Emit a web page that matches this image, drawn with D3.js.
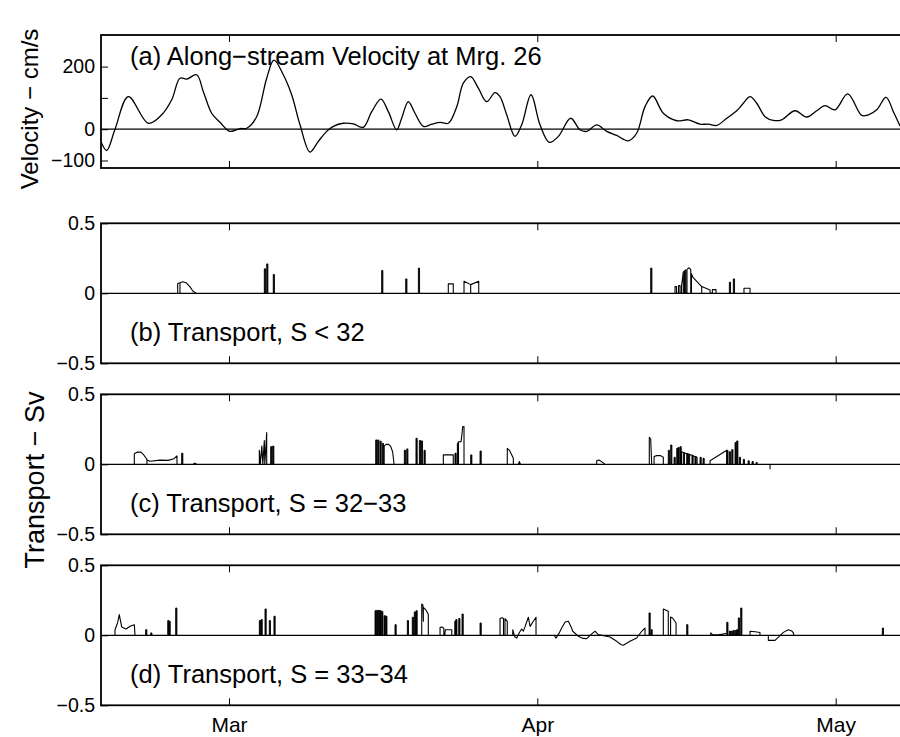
<!DOCTYPE html>
<html>
<head>
<meta charset="utf-8">
<script src="https://cdn.jsdelivr.net/npm/d3@7"></script>
<style>
  body { margin: 0; background: #fff; }
  svg { display: block; font-family: "Liberation Sans", Arial, Helvetica, sans-serif; }
  .axis path, .axis line { stroke: #000; }
  .axis text { fill: #000; }
</style>
</head>
<body>
<div id="container"></div>
<script>
// x values are days relative to 1 March
const tickDays = [0, 31, 61];
const tickLabels = ['Mar', 'Apr', 'May'];

// (a) along-stream velocity, cm/s
const velDays = [-12.87, -12.3, -11.46, -10.12, -8.11, -6.77, -5.76, -4.93, -4.26, -3.25, -2.58, -1.74, -0.9, 0.1, 1.11, 1.78,
  2.78, 3.79, 4.52, 5.46, 6.3, 7.14, 8.14, 8.98, 9.82, 10.49, 11.49, 12.5, 13.5, 14.35, 15.28, 16.02, 16.86, 17.36, 18.03,
  18.7, 19.54, 20.38, 21.22, 22.05, 22.9, 23.56, 24.3, 25.07, 25.91, 26.75, 27.25, 27.92, 28.76, 29.43, 30.37, 31.27,
  32.21, 33.11, 34.36, 35.29, 35.97, 36.97, 37.98, 38.98, 40.15, 40.99, 41.83, 42.6, 43.67, 45.02, 46.19, 47.36, 48.2,
  49.04, 50.05, 51.05, 51.72, 52.39, 53.06, 53.9, 54.73, 55.57, 56.91, 58.09, 59.09, 59.93, 60.94, 62.21, 63.62, 64.29,
  65.13, 66.07, 66.8, 67.48];
const velValues = [-40, -68, 0, 104, 19, 46, 94, 163, 160, 174, 120, 51, 22, -7, 2, 3,
  40, 163, 221, 174, 110, 14, -73, -39, -7, 9, 19, 17, 6, 56, 96, 56, -2, 35, 88,
  51, 9, 16, 22, 19, 72, 147, 168, 131, 88, 117, 104, 46, -23, 14, 110, 14,
  -42, -23, 35, -2, -7, 14, -7, -20, -37, -13, 72, 106, 51, 27, 30, 16, 16,
  12, 35, 59, 83, 104, 83, 40, 28, 30, 59, 39, 59, 75, 62, 113, 44, 46,
  62, 102, 56, 10];

// (b) transport S < 32, Sv : narrow spikes [day, value] and outlined shapes
const spikesB = [[3.55, 0.175], [3.79, 0.21], [4.45, 0.134], [15.35, 0.163], [17.77, 0.103], [19.04, 0.18],
  [42.4, 0.18], [50.31, 0.079], [50.71, 0.103]];
const shapesB = [
  [[-5.16, 0], [-5.16, 0.07], [-4.93, 0.075], [-4.93, 0], [-4.93, 0.075], [-4.66, 0.082], [-4.32, 0.076], [-3.92, 0.046], [-3.62, 0.015], [-3.32, 0]],
  [[22.05, 0], [22.05, 0.067], [22.55, 0.067], [22.55, 0]],
  [[23.63, 0], [23.63, 0.086], [24.3, 0.062], [24.3, 0], [24.3, 0.062], [25.11, 0.086], [25.11, 0]],
  [[44.85, 0], [44.85, 0.048], [45.0, 0.048], [45.0, 0], [45.2, 0], [45.2, 0.055], [45.35, 0.055], [45.35, 0], [45.5, 0], [45.5, 0.05],
   [45.68, 0.155], [45.68, 0], [45.8, 0], [45.8, 0.16], [45.92, 0.167], [45.92, 0], [46.05, 0], [46.05, 0.17], [46.18, 0.18],
   [46.3, 0.18], [46.43, 0.167], [46.43, 0], [46.5, 0], [46.5, 0.14], [46.63, 0.115], [47.53, 0.048], [47.53, 0], [47.53, 0.048],
   [48.37, 0.024], [48.37, 0], [48.6, 0], [48.6, 0.026], [48.97, 0.026], [48.97, 0]],
  [[51.78, 0], [51.78, 0.036], [52.39, 0.036], [52.39, 0]]
];

// (c) transport S = 32-33
const spikesC = [[-4.76, 0.079], [4.19, 0.126], [4.39, 0.13], [14.75, 0.174], [14.95, 0.174], [15.18, 0.165], [15.42, 0.15],
  [17.63, 0.1], [17.87, 0.11], [18.8, 0.186], [19.14, 0.17], [19.34, 0.167], [19.61, 0.1], [22.72, 0.079], [22.96, 0.15],
  [24.3, 0.067], [25.24, 0.095], [44.17, 0.1], [44.41, 0.138], [44.75, 0.05], [45.02, 0.114], [45.15, 0.12], [45.35, 0.126],
  [45.68, 0.079], [46.02, 0.075], [46.2, 0.07], [46.55, 0.065], [46.85, 0.055], [47.36, 0.05], [47.66, 0.043],
  [50.05, 0.1], [50.3, 0.09], [50.55, 0.105], [50.88, 0.155], [51.05, 0.167], [51.31, 0.05], [51.71, 0.035], [52.19, 0.025],
  [52.59, 0.02], [52.99, 0.012]];
const shapesC = [
  [[-9.52, 0], [-9.52, 0.075], [-9.2, 0.088], [-8.85, 0.087], [-8.55, 0.065], [-8.25, 0.035], [-8.25, 0], [-8.25, 0.03], [-7.94, 0.022],
   [-6.94, 0.03], [-6.13, 0.028], [-5.53, 0.04], [-5.23, 0.06], [-5.23, 0]],
  [[-3.59, 0], [-3.45, 0.008], [-3.25, 0]],
  [[3.05, 0], [3.05, 0.1], [3.15, 0], [3.3, 0.13], [3.4, 0], [3.55, 0.17], [3.6, 0], [3.79, 0.226], [3.79, 0]],
  [[15.6, 0], [15.6, 0.13], [15.8, 0.142], [16.02, 0.143], [16.25, 0.13], [16.45, 0.09], [16.6, 0]],
  [[21.55, 0], [21.55, 0.067], [22.55, 0.067], [22.55, 0]],
  [[23.05, 0], [23.05, 0.16], [23.33, 0.162], [23.4, 0.2], [23.5, 0.27], [23.63, 0.27], [23.63, 0]],
  [[27.98, 0], [27.98, 0.114], [28.2, 0.1], [28.59, 0.043], [28.59, 0]],
  [[29.1, 0], [29.19, 0.02], [29.3, 0]],
  [[36.97, 0], [36.97, 0.025], [37.2, 0.031], [37.64, 0.01], [37.8, 0]],
  [[42.26, 0], [42.26, 0.193], [42.4, 0.18], [42.5, 0]],
  [[42.74, 0], [42.74, 0.055], [43.0, 0.062], [43.4, 0.062], [43.67, 0.05], [43.67, 0]],
  [[45.5, 0], [45.5, 0.09], [45.85, 0.08], [46.35, 0.07], [46.69, 0.06], [47.06, 0.05], [47.06, 0]],
  [[48.37, 0], [48.37, 0.026], [50.05, 0.1], [50.05, 0]],
  [[54.4, 0], [54.4, -0.036]]
];

// (d) transport S = 33-34
const spikesD = [[-8.38, 0.04], [-7.87, 0.017], [-6.16, 0.105], [-6.03, 0.1], [-5.36, 0.195], [3.05, 0.105], [3.22, 0.112],
  [3.62, 0.188], [4.05, 0.105], [4.52, 0.136], [14.68, 0.176], [14.85, 0.178], [15.01, 0.178], [15.18, 0.176], [15.35, 0.17],
  [15.59, 0.14], [15.76, 0.136], [16.69, 0.076], [17.93, 0.105], [18.43, 0.129], [18.63, 0.167], [18.8, 0.176], [22.7, 0.1],
  [22.8, 0.112], [23.1, 0.12], [23.43, 0.152], [25.24, 0.088], [42.23, 0.16], [42.43, 0.04], [46.02, 0.076], [50.05, 0.093],
  [50.3, 0.03], [50.5, 0.03], [50.7, 0.035], [50.9, 0.035], [51.05, 0.04], [51.21, 0.124], [51.45, 0.195], [65.69, 0.052]];
const shapesD = [
  [[-11.46, 0], [-11.46, 0.04], [-11.2, 0.09], [-11.03, 0.148], [-10.9, 0.1], [-10.79, 0.06], [-10.36, 0.045], [-9.95, 0.065],
   [-9.52, 0.076], [-9.45, 0]],
  [[19.38, 0], [19.38, 0.224], [19.5, 0.215], [19.54, 0.1], [19.54, 0.2], [19.81, 0.18], [20.04, 0.148], [20.04, 0]],
  [[21.22, 0], [21.22, 0.055], [21.4, 0.06], [21.6, 0.05], [21.6, 0], [21.7, 0], [21.75, 0.04], [22.4, 0.04], [22.4, 0]],
  [[27.25, 0], [27.25, 0.12], [27.45, 0.125], [27.6, 0.12], [27.6, 0], [27.75, 0], [27.75, 0.12], [27.98, 0.1], [27.98, 0]],
  [[28.53, 0], [28.53, 0.04], [28.73, -0.01], [28.93, -0.02], [29.2, 0.02], [29.43, 0.045], [29.6, 0.03], [29.76, 0.06],
   [30.1, 0.129], [30.27, 0.064], [30.6, 0.1], [30.87, 0.129], [30.87, 0]],
  [[32.7, 0], [32.88, -0.02], [33.15, 0.01], [33.45, 0.052], [33.8, 0.095], [34.12, 0.1], [34.4, 0.06], [34.56, 0.029],
   [35.12, -0.007], [35.6, -0.022], [35.97, -0.024], [36.47, 0.01], [36.8, 0.029], [37.13, 0.005], [38.31, -0.012],
   [38.98, -0.043], [39.4, -0.066], [39.65, -0.071], [40.32, -0.043], [40.99, -0.019], [41.4, 0.02], [41.66, 0.04],
   [41.83, 0.052], [41.83, 0]],
  [[43.67, 0], [43.67, 0.188], [44.17, 0.171], [44.17, 0]],
  [[44.4, 0], [44.4, 0.13], [44.6, 0.124], [44.95, 0.088], [44.95, 0]],
  [[48.4, 0], [48.45, 0.017], [48.6, 0.005], [49.2, 0.003], [49.8, 0.01], [50.0, 0.015]],
  [[52.39, 0], [52.39, 0.029], [52.9, 0.025], [53.39, 0.02], [53.39, 0]],
  [[54.23, 0], [54.23, -0.036], [54.9, -0.036], [55.3, -0.01], [55.74, 0.021], [56.24, 0.04], [56.6, 0.03], [56.74, 0.017], [56.8, 0]]
];

const panelTitles = ['(a) Along\u2212stream Velocity at Mrg. 26', '(b) Transport, S < 32',
  '(c) Transport, S = 32\u221233', '(d) Transport, S = 33\u221234'];
const velTicks = [-100, 0, 100, 200];
const transTicks = [-0.5, 0, 0.5];

const width = 900, height = 737;
const left = 101, right = 905;

const svg = d3.select('#container').append('svg')
  .attr('width', width).attr('height', height);
svg.append('rect').attr('width', width).attr('height', height).attr('fill', '#fff');

const x = d3.scaleLinear().domain([-12.87, 67.97]).range([left, right]);

const panels = [
  { top: 35, bottom: 168, domain: [-124, 301], ticks: velTicks },
  { top: 223.3, bottom: 363.3, domain: [-0.5, 0.5], ticks: transTicks, spikes: spikesB, shapes: shapesB },
  { top: 394.3, bottom: 534.3, domain: [-0.5, 0.5], ticks: transTicks, spikes: spikesC, shapes: shapesC },
  { top: 565.3, bottom: 705.3, domain: [-0.5, 0.5], ticks: transTicks, spikes: spikesD, shapes: shapesD }
];

const fmt = v => v === 100 ? '' : (v < 0 ? '\u2212' : '') + Math.abs(v);

panels.forEach((p, i) => {
  const y = d3.scaleLinear().domain(p.domain).range([p.bottom, p.top]);
  const g = svg.append('g');
  const clipId = 'clip' + i;
  svg.append('clipPath').attr('id', clipId).append('rect')
    .attr('x', left).attr('y', p.top).attr('width', right - left).attr('height', p.bottom - p.top);

  const plot = g.append('g').attr('clip-path', `url(#${clipId})`);

  // zero line
  plot.append('line')
    .attr('x1', left).attr('x2', right)
    .attr('y1', y(0)).attr('y2', y(0))
    .attr('stroke', '#000').attr('stroke-width', 1.2);

  if (i === 0) {
    const pts = velDays.map((d, k) => [d, velValues[k]]);
    plot.append('path')
      .datum(pts)
      .attr('fill', 'none').attr('stroke', '#000').attr('stroke-width', 1.3)
      .attr('d', d3.line().x(d => x(d[0])).y(d => y(d[1])).curve(d3.curveCatmullRom.alpha(0.5)));
  } else {
    const line = d3.line().x(d => x(d[0])).y(d => y(d[1]));
    plot.selectAll('path.shape')
      .data(p.shapes)
      .enter().append('path')
      .attr('class', 'shape')
      .attr('fill', 'none').attr('stroke', '#000').attr('stroke-width', 1.1)
      .attr('stroke-linejoin', 'round')
      .attr('d', line);
    plot.selectAll('path.spike')
      .data(p.spikes)
      .enter().append('path')
      .attr('class', 'spike')
      .attr('fill', '#000').attr('stroke', '#000').attr('stroke-width', 0.9)
      .attr('d', d => `M${x(d[0])},${y(0)}V${y(d[1])}H${x(d[0]) + 1.2}V${y(0)}Z`);
  }

  // box
  g.append('rect')
    .attr('x', left).attr('y', p.top)
    .attr('width', right - left).attr('height', p.bottom - p.top)
    .attr('fill', 'none').attr('stroke', '#000').attr('stroke-width', 1.8);

  // x ticks, inward on top and bottom
  g.append('g').attr('class', 'axis')
    .attr('transform', `translate(0,${p.top})`)
    .call(d3.axisTop(x).tickValues(tickDays).tickSize(-7).tickSizeOuter(0).tickFormat(''))
    .call(a => a.select('.domain').remove());
  const bx = g.append('g').attr('class', 'axis')
    .attr('transform', `translate(0,${p.bottom})`)
    .call(d3.axisBottom(x).tickValues(tickDays).tickSize(-7).tickSizeOuter(0)
      .tickFormat((d, k) => i === 3 ? tickLabels[k] : ''))
    .call(a => a.select('.domain').remove());
  bx.selectAll('text').attr('font-size', 21).attr('font-family', null).attr('y', 26.4).attr('dy', null);

  // y ticks inward
  const ly = g.append('g').attr('class', 'axis')
    .attr('transform', `translate(${left},0)`)
    .call(d3.axisLeft(y).tickValues(p.ticks).tickSize(-7).tickSizeOuter(0).tickPadding(6).tickFormat(fmt))
    .call(a => a.select('.domain').remove());
  ly.selectAll('text').attr('font-size', 19.5).attr('font-family', null);

  // panel title
  g.append('text')
    .attr('x', 130)
    .attr('y', i === 0 ? p.top + 30 : y(0) + 47.5)
    .attr('font-size', 25.5)
    .text(panelTitles[i]);
});

svg.append('text')
  .attr('transform', 'translate(38,109) rotate(-90)')
  .attr('text-anchor', 'middle')
  .attr('font-size', 24)
  .text('Velocity \u2212 cm/s');

svg.append('text')
  .attr('transform', 'translate(44,480) rotate(-90)')
  .attr('text-anchor', 'middle')
  .attr('font-size', 27)
  .text('Transport \u2212 Sv');
</script>
</body>
</html>
